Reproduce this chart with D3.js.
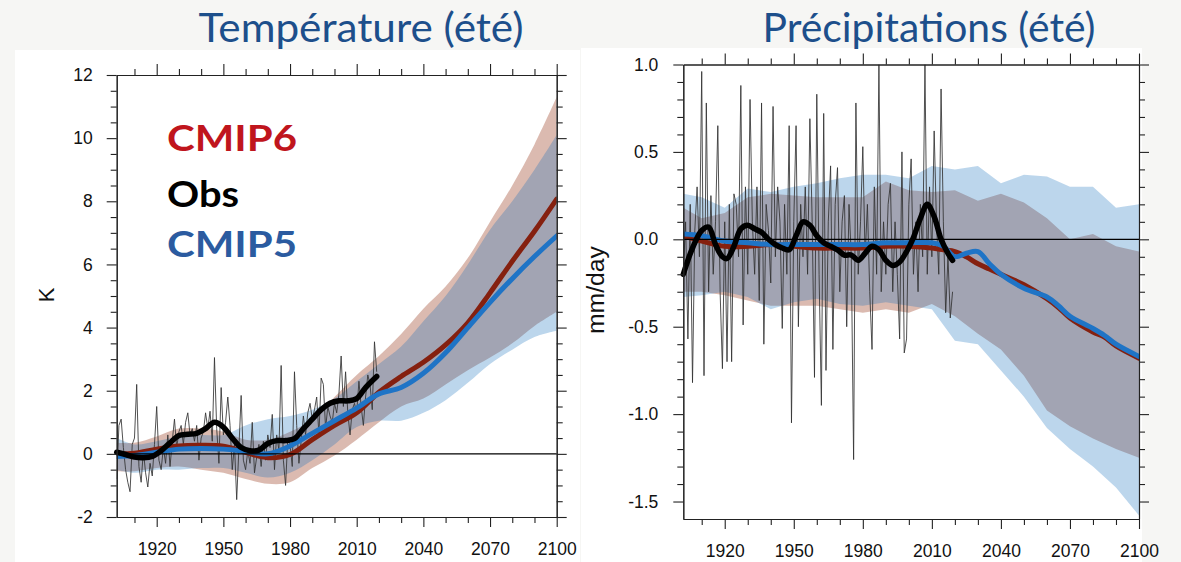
<!DOCTYPE html>
<html>
<head>
<meta charset="utf-8">
<script src="https://cdn.jsdelivr.net/npm/d3@7"></script>
<style>
  body { margin: 0; background: #f6f6f4; }
  svg { display: block; }
</style>
</head>
<body>
<svg id="chart" width="1181" height="562"></svg>
<script>
// ---------- data ----------
const obsStartYear = 1902;
const bandYears = [1902, 1910, 1920, 1930, 1940, 1950, 1960, 1970, 1980, 1990, 2000,
                   2010, 2020, 2030, 2040, 2050, 2060, 2070, 2080, 2090, 2100];

// Temperature (summer), K
const tempObsAnnual = [
  -0.8, 0.9, 1.1, 0.2, -0.5, -0.9, -1.2, 0.3,
  0.5, 2.2, -0.4, -0.9, 0.1, -0.6, -1.05, -0.3, -0.7, 0.3,
  1.5, -0.2, -0.5, 0.2, -0.3, 0.6, -0.4, 0.4, 1.1, 0.2,
  0.7, 0.9, 0.3, 1.0, 1.3, 0.6, 0.8, 0.4, 0.9, -0.2,
  0.5, 0.7, 1.3, 0.8, 1.35, 0.4, 3.05, 0.8, -0.3, 2.1,
  0.6, 1.0, 1.8, 0.9, -0.5, 0.3, -1.45, 0.2, 1.85, -0.2,
  -0.5, 0.1, -0.3, 1.0, -0.6, -0.1, 0.3, -0.4, 0.4, -0.2,
  0.6, 0.2, 1.25, -0.5, 0.6, 0.1, 2.8, -0.2, -1.0, 0.5,
  0.3, -0.4, 2.6, 0.9, -0.3, 0.4, 1.2, 0.6, 1.3, 1.6,
  1.1, 1.4, 1.8, 0.6, 2.4, 2.2, 0.8, 1.5, 1.2, 1.0,
  1.6, 1.3, 1.9, 3.1, 1.5, 2.6, 1.3, 0.6, 1.4, 1.6,
  1.3, 2.3, 1.5, 0.9, 1.8, 2.5, 2.2, 1.4, 3.55, 2.6
];
const tempObsSmoothYears = [1902, 1906, 1910, 1914, 1918, 1922, 1926, 1930, 1934, 1938, 1942, 1946,
  1950, 1954, 1958, 1962, 1966, 1970, 1974, 1978, 1982, 1986, 1990, 1994, 1998, 2002, 2006, 2010, 2014, 2019];
const tempObsSmooth = [0.05, -0.02, -0.1, -0.12, -0.08, 0.1, 0.35, 0.58, 0.62, 0.65, 0.8, 1.0,
  0.85, 0.5, 0.2, 0.1, 0.12, 0.33, 0.42, 0.42, 0.48, 0.8, 1.1, 1.4, 1.6, 1.68, 1.68, 1.75, 2.1, 2.45];
const tempCmip6Mean = [0.0, 0.02, 0.15, 0.25, 0.27, 0.24, 0.05, -0.12, -0.02, 0.45, 0.9,
  1.3, 1.95, 2.45, 2.9, 3.45, 4.15, 5.1, 6.1, 7.05, 8.07];
const tempCmip5Mean = [-0.08, -0.05, 0.05, 0.15, 0.17, 0.15, 0.08, 0.0, 0.25, 0.65, 1.05,
  1.45, 1.9, 2.1, 2.55, 3.2, 4.0, 4.8, 5.55, 6.25, 6.9];
const tempCmip6Hi = [0.35, 0.35, 0.55, 0.8, 0.8, 0.7, 0.45, 0.45, 0.7, 1.1, 1.8,
  2.5, 3.1, 3.8, 4.6, 5.3, 6.2, 7.35, 8.5, 9.8, 11.3];
const tempCmip6Lo = [-0.55, -0.55, -0.45, -0.4, -0.5, -0.6, -0.8, -0.95, -0.9, -0.45, -0.05,
  0.45, 1.0, 1.5, 1.75, 2.2, 2.65, 3.05, 3.5, 4.05, 4.5];
const tempCmip5Hi = [0.5, 0.3, 0.4, 0.55, 0.6, 0.6, 0.9, 1.1, 1.2, 1.4, 1.75,
  2.3, 2.85, 3.4, 4.2, 5.0, 6.0, 7.1, 8.0, 9.0, 10.1];
const tempCmip5Lo = [-0.5, -0.6, -0.5, -0.5, -0.45, -0.45, -0.6, -0.75, -0.6, -0.2, 0.3,
  0.85, 1.05, 1.05, 1.3, 1.7, 2.25, 2.85, 3.3, 3.7, 3.9];

// Precipitation (summer), mm/day
const precObsAnnual = [
  -0.2, 0.1, -0.57, 0.2, -0.82, 0.05, 0.3, -0.1,
  0.96, -0.78, 0.78, -0.3, 0.25, -0.2, 0.1, 0.65, -0.3, -0.74,
  0.1, -0.7, 0.2, -0.7, 0.26, 0.2, -0.1, 0.88, -0.49, 0.3,
  -0.2, 0.8, 0.1, -0.2, 0.3, -0.35, 0.78, -0.6, 0.2, 0.05,
  -0.25, 0.76, -0.1, 0.3, 0.1, -0.51, 0.2, -0.2, 0.65, -1.05,
  0.1, 0.65, -0.5, 0.2, -0.1, 0.3, -0.2, 0.69, 0.1, -0.79,
  0.83, -0.2, -0.95, 0.72, -0.75, 0.1, 0.42, -0.63, 0.2, 0.41,
  -0.3, 0.1, 0.25, -0.5, 0.2, -0.1, -1.26, 0.78, -0.2, 0.1,
  0.53, -0.1, 0.2, -0.3, -0.63, 0.3, -0.2, 1.0, -0.3, 0.1,
  -0.2, 0.2, 0.32, -0.3, 0.1, -0.2, -0.57, 0.5, -0.65, -0.57,
  0.2, 0.46, -0.2, 0.1, -0.3, 0.2, -0.1, 1.0, -0.2, 0.3,
  -0.1, 0.62, 0.1, -0.2, 0.86, 0.1, -0.42, -0.1, -0.45, -0.3
];
const precObsSmoothYears = [1902, 1906, 1910, 1913, 1916, 1919, 1921, 1924, 1927, 1930, 1933, 1936,
  1939, 1942, 1945, 1948, 1951, 1954, 1957, 1960, 1963, 1966, 1969, 1972, 1975, 1978, 1981, 1984,
  1987, 1990, 1993, 1996, 1999, 2002, 2005, 2008, 2011, 2014, 2017, 2019];
const precObsSmooth = [-0.2, -0.05, 0.05, 0.07, -0.03, -0.1, -0.11, -0.04, 0.06, 0.08, 0.06, 0.04,
  0.0, -0.03, -0.05, -0.06, 0.02, 0.1, 0.08, 0.02, -0.02, -0.04, -0.06, -0.09, -0.09, -0.12, -0.08, -0.04,
  -0.06, -0.12, -0.15, -0.13, -0.07, 0.01, 0.12, 0.2, 0.13, 0.0, -0.08, -0.12];
const precMeanYears = [1902, 1910, 1920, 1930, 1940, 1950, 1960, 1970, 1980, 1990, 2000, 2010, 2015,
  2020, 2025, 2030, 2035, 2040, 2050, 2060, 2065, 2070, 2080, 2085, 2090, 2100];
const precCmip6Mean = [0.02, -0.01, -0.04, -0.04, -0.03, -0.04, -0.05, -0.05, -0.05, -0.04, -0.04, -0.05, -0.06,
  -0.07, -0.1, -0.14, -0.17, -0.2, -0.26, -0.34, -0.39, -0.45, -0.53, -0.56, -0.61, -0.68];
const precCmip5Mean = [0.03, 0.02, -0.01, -0.02, -0.03, -0.03, -0.03, -0.03, -0.03, -0.02, -0.02, -0.02, -0.04,
  -0.1, -0.08, -0.07, -0.14, -0.2, -0.28, -0.33, -0.38, -0.44, -0.51, -0.55, -0.6, -0.67];
const precCmip6Hi = [0.18, 0.12, 0.15, 0.24, 0.26, 0.25, 0.24, 0.24, 0.24, 0.33, 0.28,
  0.27, 0.28, 0.22, 0.26, 0.21, 0.12, 0.0, 0.03, -0.04, -0.07];
const precCmip6Lo = [-0.3, -0.3, -0.32, -0.35, -0.38, -0.38, -0.38, -0.4, -0.42, -0.4, -0.42,
  -0.37, -0.44, -0.54, -0.63, -0.78, -0.98, -1.07, -1.14, -1.2, -1.25];
const precCmip5Hi = [0.26, 0.24, 0.18, 0.29, 0.27, 0.3, 0.32, 0.35, 0.37, 0.37, 0.35,
  0.42, 0.4, 0.42, 0.32, 0.37, 0.36, 0.3, 0.3, 0.18, 0.2];
const precCmip5Lo = [-0.33, -0.32, -0.3, -0.33, -0.4, -0.36, -0.34, -0.37, -0.38, -0.36, -0.38,
  -0.4, -0.58, -0.6, -0.75, -0.9, -1.08, -1.2, -1.3, -1.42, -1.58];

const xMajor = [1920, 1950, 1980, 2010, 2040, 2070, 2100];
const xMinor = [1910, 1930, 1940, 1960, 1970, 1990, 2000, 2020, 2030, 2050, 2060, 2080, 2090];

// ---------- drawing ----------
const svg = d3.select("#chart");

// white panels on the grey slide background
svg.append("rect").attr("x", 15).attr("y", 50).attr("width", 565).attr("height", 512).attr("fill", "#fff");
svg.append("rect").attr("x", 581).attr("y", 48).attr("width", 561).attr("height", 514).attr("fill", "#fff");

const annual = arr => arr.map((v, i) => [obsStartYear + i, v]);
const zip = (years, vals) => years.map((y, i) => [y, vals[i]]);

function drawPanel(cfg) {
  const x = d3.scaleLinear().domain([1902, 2100]).range(cfg.xRange);
  const y = d3.scaleLinear().domain(cfg.yDomain).range(cfg.yRange);
  const g = svg.append("g");

  const clipId = "clip-" + cfg.id;
  g.append("clipPath").attr("id", clipId).append("rect")
    .attr("x", cfg.xRange[0]).attr("y", cfg.yRange[1])
    .attr("width", cfg.xRange[1] - cfg.xRange[0])
    .attr("height", cfg.yRange[0] - cfg.yRange[1]);
  const plot = g.append("g").attr("clip-path", `url(#${clipId})`);

  // model ranges (CMIP6 then CMIP5, translucent so overlap goes grey)
  const area = d3.area().x(d => x(d[0])).y0(d => y(d[1])).y1(d => y(d[2])).curve(cfg.bandCurve);
  plot.append("path")
    .attr("d", area(bandYears.map((yr, i) => [yr, cfg.c6Lo[i], cfg.c6Hi[i]])))
    .attr("fill", "#98391d").attr("fill-opacity", 0.35);
  plot.append("path")
    .attr("d", area(bandYears.map((yr, i) => [yr, cfg.c5Lo[i], cfg.c5Hi[i]])))
    .attr("fill", "#106cbb").attr("fill-opacity", 0.28);

  const line = d3.line().x(d => x(d[0])).y(d => y(d[1]));

  // annual observations
  plot.append("path")
    .attr("d", line(annual(cfg.obsAnnual)))
    .attr("fill", "none").attr("stroke", "#333").attr("stroke-opacity", 0.85).attr("stroke-width", 1);

  // zero line
  g.append("line")
    .attr("x1", cfg.xRange[0]).attr("x2", cfg.xRange[1])
    .attr("y1", y(0)).attr("y2", y(0))
    .attr("stroke", "#000").attr("stroke-width", 1.2);

  const smooth = d3.line().x(d => x(d[0])).y(d => y(d[1])).curve(d3.curveCatmullRom);
  plot.append("path")
    .attr("d", smooth(zip(cfg.meanYears, cfg.c6Mean)))
    .attr("fill", "none").attr("stroke", "#85200f").attr("stroke-width", 5).attr("stroke-linecap", "round");
  plot.append("path")
    .attr("d", smooth(zip(cfg.meanYears, cfg.c5Mean)))
    .attr("fill", "none").attr("stroke", "#1f74c6").attr("stroke-width", 5).attr("stroke-linecap", "round");
  g.append("path")
    .attr("d", smooth(zip(cfg.obsSmoothYears, cfg.obsSmooth)))
    .attr("fill", "none").attr("stroke", "#000").attr("stroke-width", 5.5)
    .attr("stroke-linecap", "round").attr("stroke-linejoin", "round");

  // axes: major + minor ticks on all four sides, ticks pointing outward
  const x0 = cfg.xRange[0], x1 = cfg.xRange[1], y0 = cfg.yRange[0], y1 = cfg.yRange[1];
  const addAxis = (axis, tx, ty) => g.append("g").attr("transform", `translate(${tx},${ty})`).call(axis);

  const bottom = addAxis(d3.axisBottom(x).tickValues(xMajor).tickSize(10).tickSizeOuter(0)
    .tickPadding(16).tickFormat(d3.format("d")), 0, y0);
  addAxis(d3.axisBottom(x).tickValues(xMinor).tickSize(6).tickSizeOuter(0).tickFormat(""), 0, y0);
  addAxis(d3.axisTop(x).tickValues(xMajor).tickSize(11).tickSizeOuter(0).tickFormat(""), 0, y1);
  addAxis(d3.axisTop(x).tickValues(xMinor).tickSize(6).tickSizeOuter(0).tickFormat(""), 0, y1);

  const left = addAxis(d3.axisLeft(y).tickValues(cfg.yMajor).tickSize(10).tickSizeOuter(0)
    .tickPadding(cfg.yPad).tickFormat(cfg.yFormat), x0, 0);
  addAxis(d3.axisLeft(y).tickValues(cfg.yMinor).tickSize(6).tickSizeOuter(0).tickFormat(""), x0, 0);
  addAxis(d3.axisRight(y).tickValues(cfg.yMajor).tickSize(10).tickSizeOuter(0).tickFormat(""), x1, 0);
  addAxis(d3.axisRight(y).tickValues(cfg.yMinor).tickSize(6).tickSizeOuter(0).tickFormat(""), x1, 0);

  g.selectAll(".domain, .tick line").attr("stroke", "#222").attr("stroke-width", 1.1);
  [bottom, left].forEach(a => a.selectAll("text")
    .attr("fill", "#111").style("font-family", "'Liberation Sans', Arial, sans-serif").style("font-size", "17.5px"));

  // axis title
  const yTitle = g.append("text")
    .attr("transform", `translate(${cfg.yTitleX},${cfg.yTitleY}) rotate(-90)`)
    .attr("text-anchor", "middle")
    .style("font-family", "'Liberation Sans', Arial, sans-serif")
    .style("font-size", cfg.yTitleSize + "px")
    .attr("fill", "#111")
    .text(cfg.yTitle);
  if (cfg.yTitleWidth) yTitle.attr("textLength", cfg.yTitleWidth).attr("lengthAdjust", "spacingAndGlyphs");

  // slide title above the panel
  svg.append("text")
    .attr("x", cfg.titleX).attr("y", 42)
    .attr("text-anchor", "middle")
    .attr("textLength", cfg.titleWidth).attr("lengthAdjust", "spacingAndGlyphs")
    .style("font-family", "Lato, 'Open Sans', sans-serif")
    .style("font-size", "40px")
    .attr("fill", "#1d4f8b")
    .text(cfg.title);
}

drawPanel({
  id: "temp",
  title: "Température (été)", titleX: 361, titleWidth: 325,
  xRange: [116.7, 556.7], yDomain: [-2, 12], yRange: [517, 75],
  yMajor: [-2, 0, 2, 4, 6, 8, 10, 12],
  yMinor: [-1.5, -1, -0.5, 0.5, 1, 1.5, 2.5, 3, 3.5, 4.5, 5, 5.5, 6.5, 7, 7.5, 8.5, 9, 9.5, 10.5, 11, 11.5],
  yFormat: d => String(d), yPad: 14,
  yTitle: "K", yTitleX: 54, yTitleY: 295, yTitleSize: 22,
  obsAnnual: tempObsAnnual, obsSmoothYears: tempObsSmoothYears, obsSmooth: tempObsSmooth,
  meanYears: bandYears, c6Mean: tempCmip6Mean, c5Mean: tempCmip5Mean,
  c6Lo: tempCmip6Lo, c6Hi: tempCmip6Hi, c5Lo: tempCmip5Lo, c5Hi: tempCmip5Hi,
  bandCurve: d3.curveCatmullRom
});

drawPanel({
  id: "prec",
  title: "Précipitations (été)", titleX: 929, titleWidth: 333,
  xRange: [683.3, 1139], yDomain: [-1.6, 1.0], yRange: [519, 64.5],
  yMajor: [-1.5, -1.0, -0.5, 0, 0.5, 1.0],
  yMinor: [-1.4, -1.3, -1.2, -1.1, -0.9, -0.8, -0.7, -0.6, -0.4, -0.3, -0.2, -0.1,
           0.1, 0.2, 0.3, 0.4, 0.6, 0.7, 0.8, 0.9],
  yFormat: d => d.toFixed(1), yPad: 15,
  yTitle: "mm/day", yTitleX: 604, yTitleY: 290, yTitleSize: 23, yTitleWidth: 88,
  obsAnnual: precObsAnnual, obsSmoothYears: precObsSmoothYears, obsSmooth: precObsSmooth,
  meanYears: precMeanYears, c6Mean: precCmip6Mean, c5Mean: precCmip5Mean,
  c6Lo: precCmip6Lo, c6Hi: precCmip6Hi, c5Lo: precCmip5Lo, c5Hi: precCmip5Hi,
  bandCurve: d3.curveLinear
});

// legend in the temperature panel
const legendNames = ["CMIP6", "Obs", "CMIP5"];
const legendColors = ["#c0151d", "#000000", "#2b5ba0"];
const legendWidths = [130, 72, 130];
const legendBaselines = [150.5, 207, 257];
svg.append("g").selectAll("text")
  .data(legendNames)
  .join("text")
  .attr("x", 167)
  .attr("y", (d, i) => legendBaselines[i])
  .attr("textLength", (d, i) => legendWidths[i])
  .attr("lengthAdjust", "spacingAndGlyphs")
  .style("font-family", "Lato, 'Open Sans', sans-serif")
  .style("font-weight", 700)
  .style("font-size", "37px")
  .attr("fill", (d, i) => legendColors[i])
  .text(d => d);
</script>
</body>
</html>
